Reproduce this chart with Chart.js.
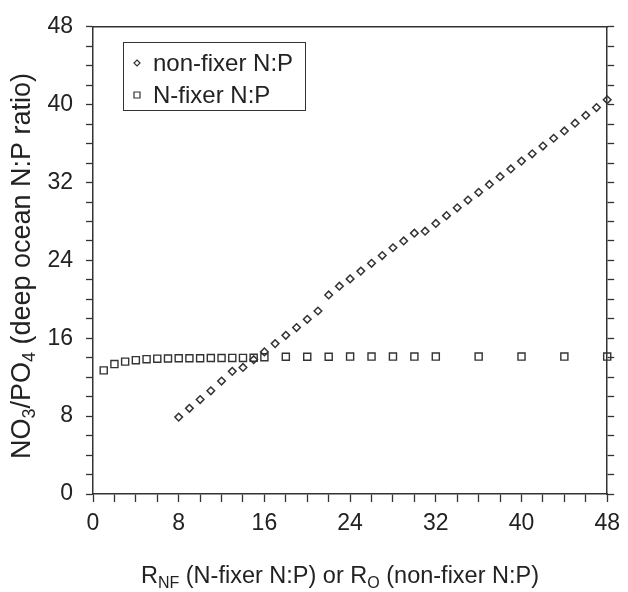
<!DOCTYPE html>
<html>
<head>
<meta charset="utf-8">
<script src="https://cdn.jsdelivr.net/npm/chart.js@4.4.0/dist/chart.umd.min.js"></script>
<style>
html, body { margin: 0; padding: 0; background: #fff; }
</style>
</head>
<body>
<canvas id="canvas" width="628" height="592"></canvas>
<script>
// non-fixer N:P (diamonds)
var nonFixerX = [8, 9, 10, 11, 12, 13, 14, 15, 16, 17, 18, 19, 20, 21, 22, 23, 24, 25, 26, 27, 28,
                 29, 30, 31, 32, 33, 34, 35, 36, 37, 38, 39, 40, 41, 42, 43, 44, 45, 46, 47, 48];
var nonFixerY = [7.9, 8.8, 9.7, 10.6, 11.6, 12.6, 13.0, 13.8, 14.6, 15.45, 16.3, 17.1, 17.95, 18.8,
                 20.45, 21.35, 22.1, 22.9, 23.7, 24.5, 25.3, 26.0, 26.8, 27.0, 27.8, 28.6, 29.4,
                 30.2, 31.0, 31.8, 32.6, 33.4, 34.2, 34.95, 35.75, 36.55, 37.3, 38.1, 38.9, 39.7, 40.5];
// N-fixer N:P (squares)
var fixerX = [1, 2, 3, 4, 5, 6, 7, 8, 9, 10, 11, 12, 13, 14, 15, 16, 18, 20, 22, 24, 26, 28, 30, 32,
              36, 40, 44, 48];
var fixerY = [12.7, 13.35, 13.6, 13.75, 13.85, 13.9, 13.92, 13.95, 13.95, 13.95, 13.97, 13.97, 13.98,
              13.98, 14.0, 14.05, 14.1, 14.1, 14.1, 14.12, 14.12, 14.12, 14.12, 14.12, 14.12, 14.12,
              14.12, 14.12];
var majorTicks = [0, 8, 16, 24, 32, 40, 48];
var seriesNames = ['non-fixer N:P', 'N-fixer N:P'];

var FONT = '"Liberation Sans", Arial, sans-serif';
var INK = '#222';
var LINE = '#333';

function toPoints(xs, ys) {
    var pts = [];
    for (var i = 0; i < xs.length; i++) pts.push({x: xs[i], y: ys[i]});
    return pts;
}

function tickLabel(v) {
    return majorTicks.indexOf(v) >= 0 ? String(v) : '';
}

// text with subscripts, parts = [[text, isSub], ...]
function drawRich(ctx, parts, x, y, size) {
    var subSize = Math.round(size * 0.68);
    var total = 0;
    parts.forEach(function(p){
        ctx.font = (p[1] ? subSize : size) + 'px ' + FONT;
        total += ctx.measureText(p[0]).width;
    });
    var cx = x - total / 2;
    ctx.textAlign = 'left';
    ctx.textBaseline = 'middle';
    parts.forEach(function(p){
        ctx.font = (p[1] ? subSize : size) + 'px ' + FONT;
        ctx.fillText(p[0], cx, p[1] ? y + size * 0.27 : y);
        cx += ctx.measureText(p[0]).width;
    });
}

var extras = {
    id: 'extras',
    afterDraw: function(chart) {
        var ctx = chart.ctx;
        ctx.save();
        ctx.fillStyle = INK;
        // axis titles
        drawRich(ctx, [['R'], ['NF', 1], [' (N-fixer N:P) or R'], ['O', 1], [' (non-fixer N:P)']], 340, 577, 23.5);
        ctx.save();
        ctx.translate(23, 266);
        ctx.rotate(-Math.PI / 2);
        drawRich(ctx, [['NO'], ['3', 1], ['/PO'], ['4', 1], [' (deep ocean N:P ratio)']], 0, 0, 27);
        ctx.restore();

        // legend box
        ctx.strokeStyle = LINE;
        ctx.lineWidth = 1;
        ctx.strokeRect(123.5, 42.5, 182, 68);
        ctx.font = '24px ' + FONT;
        ctx.textBaseline = 'middle';
        ctx.textAlign = 'left';
        chart.data.datasets.forEach(function(ds, i){
            var y = 63 + 32 * i;
            ctx.lineWidth = 1.2;
            ctx.beginPath();
            if (ds.pointStyle === 'rectRot') {
                ctx.moveTo(137, y - 3); ctx.lineTo(140, y); ctx.lineTo(137, y + 3); ctx.lineTo(134, y); ctx.closePath();
            } else {
                ctx.rect(134, y - 3, 6, 6);
            }
            ctx.stroke();
            ctx.fillText(ds.label, 153, y + 1);
        });
        ctx.restore();
    }
};

var ctx = document.getElementById('canvas').getContext('2d');
var chart = new Chart(ctx, {
    type: 'scatter',
    data: {
        datasets: [{
            label: seriesNames[0],
            data: toPoints(nonFixerX, nonFixerY),
            pointStyle: 'rectRot',
            pointRadius: 3.8,
            pointBorderWidth: 1.5,
            borderColor: LINE,
            backgroundColor: 'rgba(0,0,0,0)',
            clip: false
        }, {
            label: seriesNames[1],
            data: toPoints(fixerX, fixerY),
            pointStyle: 'rect',
            pointRadius: 5,
            pointBorderWidth: 1.4,
            borderColor: LINE,
            backgroundColor: 'rgba(0,0,0,0)',
            clip: false
        }]
    },
    options: {
        responsive: false,
        animation: false,
        devicePixelRatio: 1,
        layout: { padding: 0 },
        plugins: { legend: { display: false }, tooltip: { enabled: false } },
        scales: {
            x: {
                type: 'linear', position: 'bottom', min: 0, max: 48,
                ticks: { stepSize: 2, autoSkip: false, maxRotation: 0, padding: 8, color: INK,
                         font: { family: FONT, size: 23 }, callback: tickLabel },
                grid: { drawOnChartArea: false, tickLength: 8, tickColor: LINE, tickWidth: 1.3 },
                border: { color: LINE, width: 1.5 },
                afterFit: function(s){ s.height = 98; }
            },
            x2: {
                type: 'linear', position: 'top', min: 0, max: 48,
                ticks: { display: false },
                grid: { display: false, drawTicks: false },
                border: { color: LINE, width: 1.5 },
                afterFit: function(s){ s.height = 16; }
            },
            y: {
                type: 'linear', position: 'left', min: 0, max: 48,
                ticks: { stepSize: 2, autoSkip: false, padding: 13, color: INK,
                         font: { family: FONT, size: 23 }, callback: tickLabel },
                grid: { drawOnChartArea: false, tickLength: 7, tickColor: LINE, tickWidth: 1.3 },
                border: { color: LINE, width: 1.5 },
                afterFit: function(s){ s.width = 93; }
            },
            y2: {
                type: 'linear', position: 'right', min: 0, max: 48,
                ticks: { stepSize: 2, autoSkip: false, display: false },
                grid: { drawOnChartArea: false, tickLength: 7, tickColor: LINE, tickWidth: 1.3 },
                border: { color: LINE, width: 1.5 },
                afterFit: function(s){ s.width = 16; }
            }
        }
    },
    plugins: [extras]
});
</script>
</body>
</html>
